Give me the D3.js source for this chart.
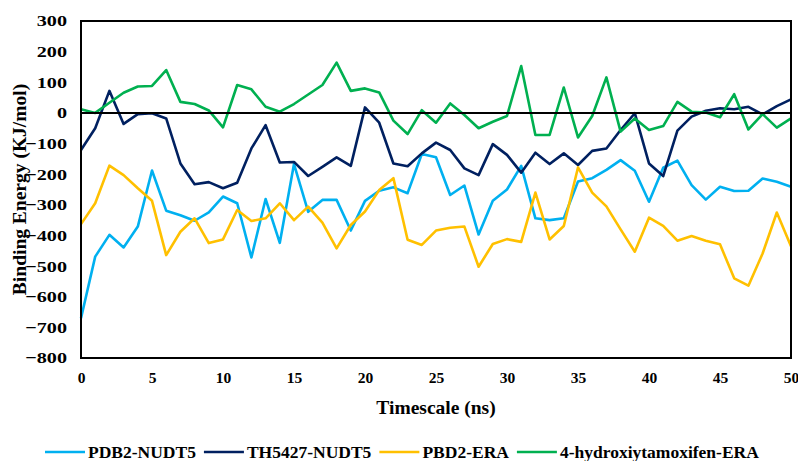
<!DOCTYPE html>
<html>
<head>
<meta charset="utf-8">
<script src="https://cdn.jsdelivr.net/npm/d3@7"></script>
<style>
  body { margin: 0; background: #fff; }
  svg { display: block; font-family: "Liberation Serif", "Times New Roman", serif; font-weight: bold; }
</style>
</head>
<body>
<svg id="chart" width="798" height="461"></svg>
<script>
'use strict';

// timescale (ns)
var times = d3.range(0, 51);

var seriesNames = ['PDB2-NUDT5', 'TH5427-NUDT5', 'PBD2-ERA', '4-hydroxiytamoxifen-ERA'];
var seriesColors = ['#00B0F0', '#002060', '#FFC000', '#00B050'];

var pdb2Nudt5 = [
  -670, -469, -398, -439, -371, -188, -319, -334, -352, -325,
  -273, -295, -472, -281, -424, -167, -323, -284, -284, -384,
  -287, -254, -243, -262, -134, -145, -268, -237, -397, -287,
  -250, -173, -344, -350, -344, -224, -213, -186, -154, -189,
  -290, -179, -156, -236, -283, -241, -255, -254, -214, -225,
  -241
];

var th5427Nudt5 = [
  -121, -50, 72, -36, -4, -1, -18, -165, -233, -226,
  -246, -228, -116, -40, -162, -160, -206, -176, -145, -173,
  18, -32, -165, -174, -132, -97, -121, -181, -203, -102,
  -137, -195, -130, -167, -132, -170, -124, -116, -56, -1,
  -165, -206, -58, -12, 7, 15, 12, 20, -5, 22,
  44
];

var pbd2Era = [
  -363, -295, -172, -203, -246, -287, -464, -388, -344, -425,
  -413, -317, -353, -344, -295, -350, -306, -358, -442, -366,
  -322, -252, -213, -414, -431, -384, -375, -371, -502, -428,
  -412, -421, -260, -413, -369, -178, -260, -305, -380, -453,
  -342, -369, -417, -402, -417, -429, -540, -564, -459, -325,
  -435
];

var hydroxyEra = [
  12, 0, 33, 66, 86, 88, 140, 36, 29, 8,
  -47, 91, 77, 20, 4, 29, 60, 91, 164, 72,
  80, 67, -25, -69, 9, -32, 31, -7, -50, -29,
  -10, 153, -72, -72, 83, -80, -10, 116, -61, -18,
  -56, -43, 36, 4, 1, -14, 61, -54, -4, -48,
  -18
];

var yTicks = d3.range(-800, 301, 100);
var xTicks = d3.range(0, 51, 5);

var seriesValues = [pdb2Nudt5, th5427Nudt5, pbd2Era, hydroxyEra];

var svg = d3.select('#chart'),
    margin = {left: 81, right: 7, top: 21, bottom: 103},
    width = 798 - margin.left - margin.right,
    height = 461 - margin.top - margin.bottom,
    stretch = 1.3;

var x = d3.scaleLinear().domain([0, 50]).range([margin.left, margin.left + width]);
var y = d3.scaleLinear().domain([-800, 300]).range([margin.top + height, margin.top]);

// y tick labels (the source labels are wide, so stretch them a bit)
svg.append('g')
    .attr('transform', 'translate(' + margin.left + ',0)')
    .call(d3.axisLeft(y).tickValues(yTicks).tickSize(0))
    .call(function (g) {
      g.select('.domain').remove();
      g.selectAll('text')
          .attr('x', -14 / stretch)
          .attr('transform', 'scale(' + stretch + ',1)')
          .attr('fill', '#000')
          .style('font-family', '"Liberation Serif", serif')
          .style('font-weight', 'bold')
          .style('font-size', '15.5px');
    });

// x tick labels
svg.append('g')
    .attr('transform', 'translate(0,' + (margin.top + height) + ')')
    .call(d3.axisBottom(x).tickValues(xTicks).tickSize(0).tickPadding(14))
    .call(function (g) {
      g.select('.domain').remove();
      g.selectAll('text')
          .attr('fill', '#000')
          .style('font-family', '"Liberation Serif", serif')
          .style('font-weight', 'bold')
          .style('font-size', '15.5px');
    });

// series lines
var line = d3.line()
    .x(function (d, i) { return x(times[i]); })
    .y(function (d) { return y(d); });

svg.append('g')
    .selectAll('path')
    .data(seriesValues)
    .enter().append('path')
    .attr('d', line)
    .attr('fill', 'none')
    .attr('stroke', function (d, i) { return seriesColors[i]; })
    .attr('stroke-width', 2.6)
    .attr('stroke-linejoin', 'round');

// zero line
svg.append('line')
    .attr('x1', x(0)).attr('x2', x(50))
    .attr('y1', y(0)).attr('y2', y(0))
    .attr('stroke', '#000')
    .attr('stroke-width', 2);

// plot frame
svg.append('rect')
    .attr('x', x(0)).attr('y', y(300))
    .attr('width', x(50) - x(0))
    .attr('height', y(-800) - y(300))
    .attr('fill', 'none')
    .attr('stroke', '#000')
    .attr('stroke-width', 2);

// axis titles
svg.append('text')
    .attr('x', (x(0) + x(50)) / 2)
    .attr('y', 414)
    .attr('text-anchor', 'middle')
    .style('font-size', '19.5px')
    .text('Timescale (ns)');

svg.append('text')
    .attr('transform', 'translate(26,' + ((y(300) + y(-800)) / 2) + ') rotate(-90)')
    .attr('text-anchor', 'middle')
    .style('font-size', '19.5px')
    .text('Binding Energy (KJ/mol)');

// legend
var legend = svg.append('g').attr('transform', 'translate(0,452)'),
    lx = 45;

seriesNames.forEach(function (name, i) {
  var item = legend.append('g').attr('transform', 'translate(' + lx + ',0)'),
      label;

  item.append('line')
      .attr('x1', 0).attr('x2', 40)
      .attr('y1', 0).attr('y2', 0)
      .attr('stroke', seriesColors[i])
      .attr('stroke-width', 2.6);

  label = item.append('text')
      .attr('x', 43)
      .attr('y', 6)
      .style('font-size', '17.5px')
      .text(name);

  lx += 43 + label.node().getComputedTextLength() + 8;
});
</script>
</body>
</html>
